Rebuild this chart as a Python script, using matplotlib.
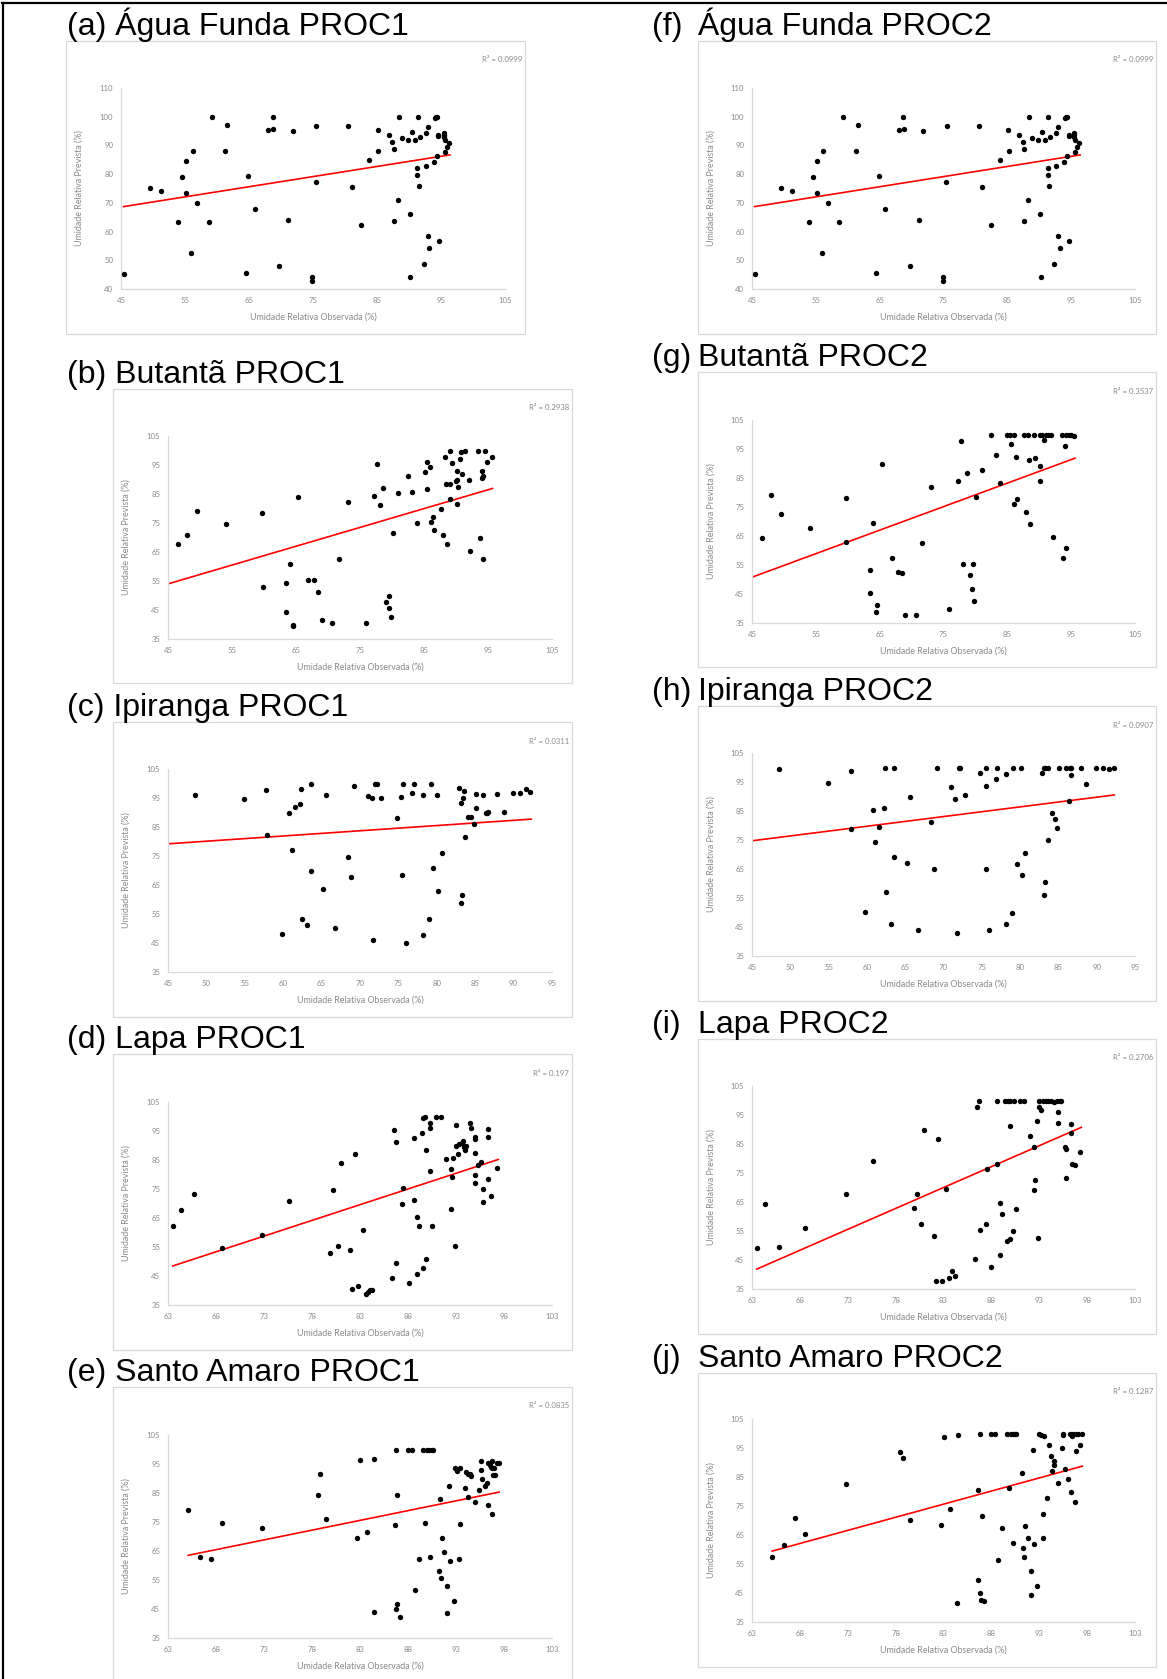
import numpy as np
import matplotlib
matplotlib.use("Agg")
import matplotlib.pyplot as plt
from matplotlib.patches import Rectangle
from matplotlib.lines import Line2D

plt.rcParams["font.family"] = ["Lato", "DejaVu Sans"]

# ---------------------------------------------------------------- data
# Água Funda (PROC1 and PROC2 give the same predictions)
agua_funda_obs = [45.5, 49.5, 51.2, 53.9, 54.5, 55.2, 55.2, 56.0, 56.2, 56.9, 58.7, 59.2, 61.3, 61.6,
                  64.5, 64.9, 65.9, 68.0, 68.7, 68.8, 69.7, 71.1, 71.8, 74.9, 74.9, 75.4, 75.5, 80.5,
                  81.1, 82.5, 83.8, 85.1, 85.2, 86.9, 87.4, 87.6, 87.6, 88.3, 88.4, 88.9, 89.8, 90.1,
                  90.2, 90.5, 90.9, 91.3, 91.3, 91.4, 91.5, 91.7, 92.3, 92.6, 92.7, 92.9, 93.0, 93.2,
                  93.9, 94.0, 94.2, 94.3, 94.3, 94.6, 94.6, 94.7, 95.4, 95.5, 95.5, 95.6, 95.6, 95.9,
                  96.3]
agua_funda_proc1 = [45.2, 75.3, 74.1, 63.2, 79.0, 84.7, 73.3, 52.7, 87.9, 70.1, 63.2, 100.0, 87.9, 97.0,
                    45.6, 79.5, 67.9, 95.5, 100.0, 95.8, 48.1, 64.0, 95.0, 44.2, 42.7, 77.1, 96.8, 96.8,
                    75.6, 62.4, 84.9, 95.5, 88.2, 93.7, 91.2, 88.8, 63.8, 71.0, 100.0, 92.5, 91.9, 66.1,
                    44.2, 94.6, 92.0, 82.1, 79.6, 100.0, 75.8, 93.1, 48.8, 83.0, 94.3, 96.5, 58.6, 54.2,
                    84.3, 99.4, 99.8, 99.9, 86.3, 93.7, 93.3, 56.8, 94.4, 93.7, 92.8, 92.0, 87.6, 89.3,
                    90.8]
agua_funda_proc2 = list(agua_funda_proc1)

# Butantã
butanta_obs1 = [46.6, 47.9, 49.5, 54.1, 59.7, 59.8, 63.5, 63.5, 64.0, 64.5, 64.6, 65.3, 66.9, 67.8,
                68.5, 69.0, 70.7, 71.7, 73.1, 75.9, 77.2, 77.7, 78.1, 78.6, 79.1, 79.5, 79.6, 79.8,
                80.1, 81.0, 82.5, 83.2, 83.9, 85.1, 85.4, 85.5, 86.0, 86.1, 86.4, 86.5, 87.6, 88.0,
                88.3, 88.4, 88.6, 89.0, 89.0, 89.0, 89.4, 90.1, 90.1, 90.2, 90.3, 90.7, 90.8, 90.9,
                91.4, 92.0, 92.2, 93.5, 93.7, 94.0, 94.1, 94.2, 94.2, 94.5, 94.9, 95.6, 90.0]
butanta_proc1 = [67.6, 71.0, 79.1, 74.8, 78.5, 53.0, 54.2, 44.4, 60.8, 39.4, 39.7, 83.9, 55.4, 55.4,
                 51.1, 41.7, 40.6, 62.5, 82.1, 40.5, 84.4, 95.3, 81.3, 86.9, 47.8, 45.8, 49.7, 42.7,
                 71.4, 85.2, 91.2, 85.7, 75.0, 92.7, 96.0, 86.8, 94.3, 75.5, 77.0, 72.5, 79.8, 70.7,
                 97.9, 88.6, 67.9, 99.7, 88.4, 83.4, 95.7, 81.7, 89.9, 92.9, 87.5, 97.1, 99.4, 92.0,
                 99.8, 90.0, 65.4, 99.8, 69.9, 90.5, 92.9, 91.3, 62.5, 99.8, 96.1, 97.6, 89.6]
butanta_obs2 = [46.6, 47.9, 49.5, 54.1, 59.7, 59.8, 63.5, 63.5, 64.0, 64.6, 64.5, 65.3, 66.9, 67.8,
                68.5, 69.0, 70.7, 71.7, 73.1, 75.9, 77.2, 77.7, 78.1, 78.7, 79.2, 79.5, 79.6, 79.8,
                80.1, 81.0, 82.5, 83.2, 83.9, 85.0, 85.5, 85.4, 86.0, 86.1, 86.4, 86.5, 87.6, 88.0,
                88.4, 88.3, 88.6, 89.1, 89.4, 90.1, 90.1, 90.1, 90.4, 90.7, 91.0, 91.3, 91.9, 92.2,
                93.5, 93.7, 94.0, 94.2, 94.2, 94.6, 94.9, 95.5]
butanta_proc2 = [64.2, 79.2, 72.7, 67.8, 78.0, 63.1, 53.3, 45.5, 69.6, 41.3, 38.9, 89.8, 57.5, 52.5,
                 52.2, 37.7, 37.8, 62.6, 81.8, 39.7, 84.0, 97.9, 55.2, 86.6, 51.5, 46.8, 55.4, 42.6,
                 78.5, 87.8, 99.7, 93.0, 83.4, 99.9, 96.6, 99.9, 99.9, 76.2, 92.3, 77.9, 99.9, 73.2,
                 91.3, 99.9, 69.3, 99.9, 92.0, 99.9, 89.0, 84.1, 99.9, 98.1, 99.9, 99.9, 99.9, 64.8,
                 99.9, 57.3, 96.0, 99.9, 60.9, 99.9, 99.9, 99.5]

# Ipiranga
ipiranga_obs1 = [48.5, 54.9, 57.8, 57.9, 59.8, 60.8, 61.1, 61.6, 62.2, 62.3, 62.5, 63.1, 63.6, 63.6,
                 65.2, 65.6, 66.7, 68.4, 68.8, 69.2, 71.0, 71.5, 71.7, 72.0, 72.2, 72.7, 74.8, 75.4,
                 75.5, 75.6, 76.0, 76.8, 77.0, 78.2, 78.2, 79.0, 79.2, 79.5, 80.0, 80.2, 80.7, 82.9,
                 83.1, 83.1, 83.3, 83.4, 83.5, 83.7, 84.1, 84.5, 84.8, 85.1, 85.1, 86.0, 86.4, 86.6,
                 86.7, 87.9, 88.7, 89.9, 90.8, 91.6, 92.2]
ipiranga_proc1 = [96.0, 94.6, 97.9, 82.4, 48.1, 90.0, 76.9, 91.9, 92.9, 98.1, 53.4, 51.1, 70.0, 99.9,
                  63.6, 96.0, 50.2, 74.8, 67.8, 99.2, 95.8, 94.9, 45.9, 99.9, 99.9, 95.0, 88.0, 95.3,
                  68.6, 99.9, 45.0, 96.7, 99.9, 96.2, 47.7, 53.2, 99.9, 70.9, 96.0, 62.9, 76.1, 98.6,
                  93.4, 58.7, 61.6, 94.9, 97.3, 81.5, 88.6, 88.3, 86.0, 96.5, 91.4, 96.0, 89.7, 89.8,
                  90.3, 96.4, 90.3, 96.7, 96.7, 98.1, 97.1]
ipiranga_obs2 = [48.5, 54.9, 57.9, 57.9, 59.8, 60.8, 61.0, 61.6, 62.2, 62.4, 62.5, 63.1, 63.6, 63.6,
                 65.2, 65.6, 66.7, 68.4, 68.8, 69.2, 71.0, 71.5, 71.7, 72.0, 72.2, 72.8, 74.8, 75.5,
                 75.6, 75.6, 76.0, 76.8, 77.0, 78.2, 78.2, 79.0, 79.1, 79.6, 80.1, 80.2, 80.7, 82.9,
                 83.1, 83.1, 83.3, 83.3, 83.6, 83.6, 84.2, 84.5, 84.8, 85.1, 86.0, 86.4, 86.5, 86.6,
                 86.7, 87.9, 88.6, 89.9, 90.8, 91.6, 92.2]
ipiranga_proc2 = [99.4, 94.6, 98.8, 78.8, 50.2, 85.2, 74.2, 79.6, 86.0, 99.9, 56.9, 46.2, 69.1, 99.9,
                  67.2, 89.8, 43.9, 81.1, 65.0, 99.9, 93.4, 89.3, 42.8, 99.9, 99.9, 90.5, 98.0, 93.7,
                  64.9, 99.9, 44.1, 96.2, 99.9, 97.6, 46.2, 49.9, 99.9, 66.6, 99.9, 62.9, 70.6, 98.2,
                  99.9, 56.0, 60.4, 99.9, 99.9, 74.9, 84.4, 82.2, 79.2, 99.9, 99.9, 88.4, 99.9, 97.3,
                  99.9, 99.9, 94.4, 99.9, 99.9, 99.6, 99.9]

# Lapa
lapa_obs1 = [63.5, 64.4, 65.7, 68.6, 72.8, 75.6, 79.9, 80.2, 80.7, 81.0, 82.0, 82.2, 82.5, 82.8,
             83.3, 83.6, 83.8, 84.0, 84.3, 86.3, 86.5, 86.7, 86.8, 87.4, 87.5, 88.1, 88.6, 88.6,
             88.9, 88.9, 89.1, 89.5, 89.6, 89.6, 89.8, 89.9, 89.9, 90.3, 90.3, 90.3, 90.5, 90.9,
             91.4, 92.0, 92.5, 92.5, 92.6, 92.7, 92.9, 93.0, 93.0, 93.2, 93.3, 93.6, 93.7, 93.8,
             93.9, 94.0, 94.5, 94.6, 95.0, 95.0, 95.0, 95.0, 95.0, 95.3, 95.6, 95.8, 95.8, 96.3,
             96.3, 96.3, 96.6, 97.3]
lapa_proc1 = [62.3, 67.6, 73.4, 54.8, 59.1, 71.0, 52.9, 74.7, 55.2, 84.0, 54.0, 40.5, 86.9, 41.6,
              60.7, 38.9, 39.5, 40.1, 40.3, 44.2, 95.2, 91.2, 49.6, 69.8, 75.5, 42.6, 71.3, 92.7,
              45.6, 65.3, 62.4, 94.3, 47.8, 99.5, 99.8, 88.6, 50.9, 81.2, 97.9, 96.0, 62.4, 99.9,
              99.9, 85.2, 81.8, 68.0, 79.1, 85.7, 55.2, 97.0, 89.9, 86.9, 90.4, 91.0, 91.5, 89.4,
              88.5, 89.9, 97.7, 96.1, 92.9, 92.2, 87.4, 79.7, 77.0, 83.4, 84.2, 70.6, 74.9, 95.7,
              92.9, 78.6, 72.5, 82.2]
lapa_obs2 = [63.5, 64.4, 65.8, 68.5, 72.8, 75.6, 79.9, 80.2, 80.7, 81.0, 82.0, 82.2, 82.4, 82.8,
             83.3, 83.6, 83.9, 84.2, 86.3, 86.5, 86.7, 86.8, 87.4, 87.5, 88.0, 88.6, 88.6, 88.9,
             88.9, 89.1, 89.4, 89.6, 89.7, 89.9, 89.9, 89.9, 90.3, 90.4, 90.6, 91.0, 91.4, 92.0,
             92.5, 92.5, 92.6, 92.8, 92.9, 93.0, 93.0, 93.2, 93.4, 93.7, 93.9, 94.5, 94.9, 95.0,
             95.0, 95.2, 95.3, 95.7, 95.8, 95.8, 96.3, 96.3, 96.4, 96.7, 97.3, 94.2]
lapa_proc2 = [49.1, 64.2, 49.4, 56.2, 67.8, 79.2, 63.1, 67.8, 57.5, 89.8, 53.3, 37.9, 86.6, 37.7,
              69.6, 38.8, 41.3, 39.6, 45.5, 97.7, 99.7, 55.4, 57.3, 76.3, 42.6, 78.1, 99.9, 46.6,
              64.8, 60.8, 99.9, 51.6, 99.9, 91.3, 99.9, 52.1, 55.0, 99.9, 62.6, 99.9, 99.9, 87.7,
              84.1, 69.3, 72.7, 93.0, 52.5, 99.9, 97.9, 96.6, 99.9, 99.9, 99.9, 99.6, 99.9, 96.1,
              92.3, 99.9, 99.9, 83.9, 83.4, 73.2, 92.0, 88.9, 78.1, 77.9, 82.2, 99.9]

# Santo Amaro
santo_amaro_obs1 = [65.1, 66.3, 67.5, 68.6, 72.8, 78.6, 78.8, 79.5, 82.7, 83.0, 83.7, 84.5, 84.5, 86.6,
                    86.7, 86.8, 86.9, 86.9, 87.2, 88.0, 88.4, 88.7, 89.1, 89.6, 89.8, 90.0, 90.2, 90.3,
                    90.5, 90.6, 91.2, 91.3, 91.4, 91.5, 91.7, 92.1, 92.1, 92.3, 92.4, 92.8, 92.9, 93.1,
                    93.3, 93.4, 93.4, 93.9, 94.0, 94.3, 94.3, 94.5, 94.6, 95.0, 95.4, 95.6, 95.6, 95.7,
                    96.0, 96.2, 96.3, 96.3, 96.5, 96.6, 96.7, 96.7, 96.8, 96.9, 97.0, 97.1, 97.3, 97.5]
santo_amaro_proc1 = [79.1, 63.1, 62.3, 74.6, 72.9, 84.4, 91.7, 76.2, 69.5, 96.5, 71.6, 43.9, 96.7, 74.0,
                     45.1, 99.9, 46.8, 84.2, 42.3, 99.9, 99.9, 51.7, 62.3, 99.9, 74.6, 99.9, 99.9, 62.9,
                     99.9, 99.9, 58.1, 83.0, 55.8, 69.5, 64.6, 43.6, 52.9, 87.5, 61.5, 47.8, 93.5, 92.5,
                     62.3, 93.6, 74.3, 86.6, 92.1, 83.7, 91.5, 91.4, 90.8, 81.9, 86.2, 96.2, 92.8, 89.8,
                     87.5, 88.4, 80.7, 95.3, 94.6, 94.0, 96.0, 77.7, 93.5, 91.3, 93.6, 91.3, 95.4, 95.4]
santo_amaro_obs2 = [65.1, 66.3, 67.5, 68.5, 72.8, 78.5, 78.8, 79.5, 82.7, 83.0, 83.7, 84.4, 84.5, 86.6,
                    86.6, 86.8, 86.8, 86.9, 87.0, 87.2, 88.0, 88.4, 88.7, 89.1, 89.6, 89.8, 90.0, 90.3,
                    90.3, 90.5, 90.6, 91.2, 91.3, 91.4, 91.5, 91.8, 92.1, 92.1, 92.3, 92.4, 92.8, 93.0,
                    93.2, 93.4, 93.4, 93.5, 93.8, 94.0, 94.2, 94.3, 94.5, 94.5, 95.0, 95.4, 95.5, 95.5,
                    95.7, 96.0, 96.2, 96.3, 96.4, 96.5, 96.7, 96.8, 96.8, 97.0, 97.3, 97.5]
santo_amaro_proc2 = [57.3, 61.7, 71.0, 65.3, 82.7, 93.7, 91.6, 70.2, 68.5, 98.7, 73.8, 41.6, 99.6, 80.6,
                     49.6, 45.1, 99.9, 42.7, 71.6, 42.1, 99.9, 99.9, 56.5, 67.4, 99.9, 81.1, 99.9, 99.9,
                     62.2, 99.9, 99.9, 86.3, 60.4, 57.3, 68.2, 64.0, 44.2, 52.6, 94.4, 61.8, 47.4, 99.9,
                     99.6, 72.1, 63.8, 99.1, 77.9, 96.2, 92.1, 87.2, 90.5, 89.0, 82.8, 95.1, 99.9, 99.4,
                     87.8, 84.2, 99.9, 79.8, 99.1, 99.9, 76.3, 99.9, 93.9, 99.9, 96.2, 99.9]

# linear trend lines (panels a-j): slope, intercept and observed range covered
trend_slope = [0.353, 0.649, 0.180, 1.083, 0.673, 0.353, 0.811, 0.334, 1.442, 0.904]
trend_intercept = [52.67, 24.8, 71.1, -20.3, 19.7, 52.67, 14.3, 59.7, -49.7, 0.6]
trend_x_start = [45.4, 45.0, 45.0, 63.5, 65.1, 45.4, 45.0, 45.0, 63.5, 65.1]
trend_x_end = [96.4, 95.7, 92.3, 97.4, 97.5, 96.4, 95.6, 92.3, 97.4, 97.5]

r2_labels = ["0.0999", "0.2938", "0.0311", "0.197", "0.0835",
             "0.0999", "0.3537", "0.0907", "0.2706", "0.1287"]

ticks_45_105 = [45, 55, 65, 75, 85, 95, 105]
ticks_45_95 = [45, 50, 55, 60, 65, 70, 75, 80, 85, 90, 95]
ticks_63_103 = [63, 68, 73, 78, 83, 88, 93, 98, 103]
ticks_40_110 = [40, 50, 60, 70, 80, 90, 100, 110]
ticks_35_105 = [35, 45, 55, 65, 75, 85, 95, 105]

# ---------------------------------------------------------------- layout (pixels)
W, H = 1167, 1679
DPI = 100

fig = plt.figure(figsize=(W / DPI, H / DPI), dpi=DPI)
fig.patch.set_facecolor("white")


def fx(px):
    return px / W


def fy(py):
    return 1 - py / H


GRAY_TXT = "#8a8a8a"
GRAY_LINE = "#d9d9d9"

panels = [
    # tag, name, box(x0,y0,x1,y1), plot(x0,y0,x1,y1), obs, pred, xticks, yticks, right column
    ("(a)", "Água Funda PROC1", (66, 41, 525, 334), (121, 88, 505, 289),
     agua_funda_obs, agua_funda_proc1, ticks_45_105, ticks_40_110, False),
    ("(b)", "Butantã PROC1", (113, 389, 572, 683), (168, 436, 552, 639),
     butanta_obs1, butanta_proc1, ticks_45_105, ticks_35_105, False),
    ("(c)", "Ipiranga PROC1", (113, 722, 572, 1017), (168, 769, 552, 972),
     ipiranga_obs1, ipiranga_proc1, ticks_45_95, ticks_35_105, False),
    ("(d)", "Lapa PROC1", (113, 1054, 572, 1350), (168, 1102, 552, 1305),
     lapa_obs1, lapa_proc1, ticks_63_103, ticks_35_105, False),
    ("(e)", "Santo Amaro PROC1", (113, 1387, 572, 1684), (168, 1435, 552, 1638),
     santo_amaro_obs1, santo_amaro_proc1, ticks_63_103, ticks_35_105, False),
    ("(f)", "Água Funda PROC2", (698, 41, 1156, 334), (752, 88, 1135, 289),
     agua_funda_obs, agua_funda_proc2, ticks_45_105, ticks_40_110, True),
    ("(g)", "Butantã PROC2", (698, 372, 1156, 667), (752, 420, 1135, 623),
     butanta_obs2, butanta_proc2, ticks_45_105, ticks_35_105, True),
    ("(h)", "Ipiranga PROC2", (698, 706, 1156, 1001), (752, 753, 1135, 956),
     ipiranga_obs2, ipiranga_proc2, ticks_45_95, ticks_35_105, True),
    ("(i)", "Lapa PROC2", (698, 1039, 1156, 1334), (752, 1086, 1135, 1289),
     lapa_obs2, lapa_proc2, ticks_63_103, ticks_35_105, True),
    ("(j)", "Santo Amaro PROC2", (698, 1373, 1156, 1667), (752, 1419, 1135, 1622),
     santo_amaro_obs2, santo_amaro_proc2, ticks_63_103, ticks_35_105, True),
]

TITLE_FONT = dict(family=["Liberation Sans", "DejaVu Sans"], fontsize=23, color="black")

for i, (tag, name, box, plot, obs, pred, xt, yt, right) in enumerate(panels):
    bx0, by0, bx1, by1 = box
    px0, py0, px1, py1 = plot

    # chart frame
    fig.add_artist(Rectangle((fx(bx0), fy(by1)), (bx1 - bx0) / W, (by1 - by0) / H,
                             transform=fig.transFigure, fill=False,
                             edgecolor=GRAY_LINE, linewidth=0.9))

    # panel heading
    if right:
        fig.text(fx(652), fy(by0 - 6), tag, ha="left", va="baseline", **TITLE_FONT)
        fig.text(fx(698), fy(by0 - 6), name, ha="left", va="baseline", **TITLE_FONT)
    else:
        fig.text(fx(67), fy(by0 - 6), f"{tag} {name}", ha="left", va="baseline", **TITLE_FONT)

    ax = fig.add_axes([fx(px0), fy(py1), (px1 - px0) / W, (py1 - py0) / H])
    ax.set_facecolor("none")
    ax.scatter(obs, pred, s=15, color="black", linewidths=0, zorder=3, clip_on=False)

    # linear trend line
    xs = np.array([trend_x_start[i], trend_x_end[i]])
    ax.plot(xs, trend_slope[i] * xs + trend_intercept[i], color="#ff0000",
            linewidth=1.2, zorder=2)

    ax.set_xlim(xt[0], xt[-1])
    ax.set_ylim(yt[0], yt[-1])
    ax.set_xticks(xt)
    ax.set_yticks(yt)
    for s in ("top", "right"):
        ax.spines[s].set_visible(False)
    for s in ("left", "bottom"):
        ax.spines[s].set_color(GRAY_LINE)
        ax.spines[s].set_linewidth(0.9)
    ax.tick_params(axis="both", length=0, labelsize=5.6, labelcolor=GRAY_TXT)
    ax.tick_params(axis="y", pad=5.5)
    ax.tick_params(axis="x", pad=6.0)

    fig.text(fx(bx1 - 3), fy(by0 + 19), f"R² = {r2_labels[i]}", ha="right", va="center",
             fontsize=5.6, color=GRAY_TXT)
    fig.text(fx(bx0 + 13), fy((py0 + py1) / 2), "Umidade Relativa Prevista (%)",
             rotation=90, ha="center", va="center", fontsize=6.4, color=GRAY_TXT)
    fig.text(fx((px0 + px1) / 2), fy(py1 + 28), "Umidade Relativa Observada (%)",
             ha="center", va="center", fontsize=6.4, color=GRAY_TXT)

# outer frame (left and top edges)
fig.add_artist(Line2D([fx(3), fx(3)], [fy(3), fy(H + 5)], transform=fig.transFigure,
                      color="black", linewidth=1.6))
fig.add_artist(Line2D([fx(2), fx(W + 5)], [fy(3), fy(3)], transform=fig.transFigure,
                      color="black", linewidth=1.6))

fig.savefig("out.png", dpi=DPI, facecolor="white")
